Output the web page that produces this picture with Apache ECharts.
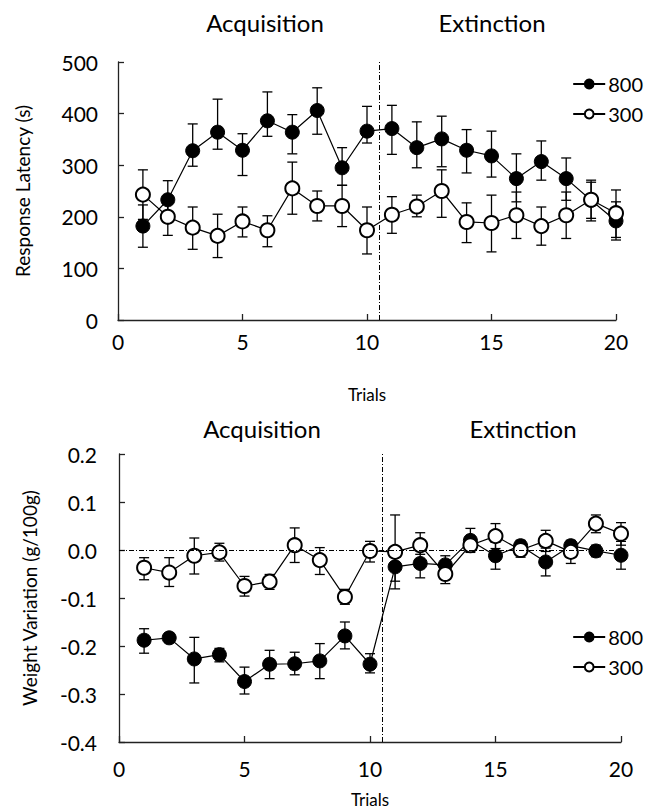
<!DOCTYPE html>
<html><head><meta charset="utf-8">
<script src="https://cdn.jsdelivr.net/npm/echarts@6/dist/echarts.min.js"></script>
<style>html,body{margin:0;padding:0;background:#fff}#c{width:664px;height:812px}</style>
</head><body><div id="c"></div>
<script>
// ---------- data ----------
const trials = [1,2,3,4,5,6,7,8,9,10,11,12,13,14,15,16,17,18,19,20];
const phaseBoundary = 10.5;
const phaseLabels = ['Acquisition', 'Extinction'];

// Top: Response latency (s)
const lat800 =   [182,233,328,364,329,386,364,406,295,366,371,334,351,329,318,274,307,274,232,192];
const lat800Lo = [141,196,298,331,280,356,322,360,261,343,321,295,297,285,277,229,271,232,192,155];
const lat800Hi = [223,270,380,428,361,442,398,450,334,414,416,384,395,369,366,322,347,314,271,229];
const lat300 =   [243,200,179,163,191,174,255,221,221,174,204,220,250,190,188,203,182,203,233,207];
const lat300Lo = [195,164,137,121,161,142,205,192,181,128,168,200,199,150,132,158,145,158,197,160];
const lat300Hi = [291,236,219,205,219,202,306,250,261,219,239,242,291,227,242,248,219,248,267,252];

// Bottom: Weight variation (g/100g)
const wv800 =   [-0.188,-0.183,-0.227,-0.218,-0.274,-0.238,-0.237,-0.231,-0.179,-0.238,-0.035,-0.028,-0.031,0.020,-0.012,0.009,-0.025,0.009,-0.002,-0.011];
const wv800Lo = [-0.215,-0.193,-0.277,-0.233,-0.300,-0.268,-0.260,-0.268,-0.206,-0.256,-0.065,-0.058,-0.045,0.002,-0.040,-0.002,-0.054,-0.002,-0.014,-0.040];
const wv800Hi = [-0.164,-0.173,-0.182,-0.205,-0.244,-0.209,-0.213,-0.195,-0.150,-0.216,-0.005,0.002,-0.012,0.045,0.016,0.020,0.004,0.020,0.010,0.018];
const wv300 =   [-0.037,-0.047,-0.012,-0.005,-0.075,-0.066,0.010,-0.021,-0.098,-0.002,-0.004,0.010,-0.050,0.010,0.029,0.000,0.019,-0.004,0.055,0.034];
const wv300Lo = [-0.062,-0.076,-0.050,-0.023,-0.096,-0.082,-0.026,-0.051,-0.113,-0.025,-0.081,-0.009,-0.070,-0.005,0.003,-0.015,-0.003,-0.028,0.036,0.010];
const wv300Hi = [-0.016,-0.016,0.025,0.014,-0.055,-0.051,0.046,0.005,-0.082,0.018,0.073,0.036,-0.025,0.025,0.055,0.015,0.041,0.015,0.073,0.057];

const groups = ['800', '300'];
const xTicks = {min:0, max:20, interval:5};
const latTicks = {min:0, max:500, interval:100};
const wvTicks = {min:-0.4, max:0.2, interval:0.1};

// ---------- chart ----------
const FONT = 'Lato';
const INK = '#000';
const chart = echarts.init(document.getElementById('c'), null, {renderer:'svg'});

function errSeries(id, gi, lo, hi) {
  return {
    type:'custom', name:id, xAxisIndex:gi, yAxisIndex:gi, silent:true, z:2,
    data: trials.map((t,i)=>[t, lo[i], hi[i]]),
    encode:{x:0, y:[1,2]},
    renderItem(params, api){
      const x = api.value(0);
      const a = api.coord([x, api.value(1)]);
      const b = api.coord([x, api.value(2)]);
      const w = 5, st = {stroke:'#000', lineWidth:1.3};
      return {type:'group', children:[
        {type:'line', shape:{x1:a[0],y1:a[1],x2:b[0],y2:b[1]}, style:st},
        {type:'line', shape:{x1:a[0]-w,y1:a[1],x2:a[0]+w,y2:a[1]}, style:st},
        {type:'line', shape:{x1:b[0]-w,y1:b[1],x2:b[0]+w,y2:b[1]}, style:st}
      ]};
    }
  };
}
const dashDot = [5,2,1,2];
function lineSeries(name, gi, vals, filled, markLine) {
  const s = {
    type:'line', name, xAxisIndex:gi, yAxisIndex:gi, z: filled ? 3 : 4,
    data: trials.map((t,i)=>[t, vals[i]]),
    symbol:'circle', symbolSize:14, showSymbol:true,
    itemStyle:{color: filled ? '#000' : '#fff', borderColor:'#000', borderWidth: filled ? 1 : 2},
    lineStyle:{color:'#000', width:1.2},
    emphasis:{disabled:true}, animation:false
  };
  if (markLine) s.markLine = {symbol:'none', silent:true, label:{show:false}, animation:false,
    lineStyle:{type:dashDot, color:'#000', width:1}, data: markLine};
  return s;
}

function xAxis(gi, gap, margin) {
  return {gridIndex:gi, type:'value', ...xTicks, name:'Trials', nameLocation:'middle', nameGap:gap,
    nameTextStyle:{fontFamily:FONT, fontSize:17, color:INK},
    axisLine:{onZero:false, lineStyle:{color:'#222', width:1.3}},
    axisTick:{inside:true, length:6, lineStyle:{color:'#222', width:1.3}},
    axisLabel:{fontFamily:FONT, fontSize:21, color:INK, margin}, splitLine:{show:false}};
}
function yAxis(gi, ticks, name, gap, margin, fmt) {
  return {gridIndex:gi, type:'value', ...ticks, name, nameLocation:'middle', nameGap:gap,
    nameTextStyle:{fontFamily:FONT, fontSize:19, color:INK},
    axisLine:{show:true, onZero:false, lineStyle:{color:'#222', width:1.3}},
    axisTick:{show:true, inside:true, length:6, lineStyle:{color:'#222', width:1.3}},
    axisLabel:{fontFamily:FONT, fontSize:21, color:INK, margin, formatter:fmt}, splitLine:{show:false}};
}
function legend(top) {
  return {data:groups, orient:'vertical', right:16, top, itemWidth:32, itemHeight:11, itemGap:10,
    textStyle:{fontFamily:FONT, fontSize:20, color:INK, padding:[0,0,0,-2]}, selectedMode:false};
}
function title(x, y, text) {
  return {type:'text', x, y, style:{text, font:'24px Lato', fill:INK, textAlign:'center', textVerticalAlign:'middle'}};
}

const option = {
  backgroundColor:'#fff',
  animation:false,
  grid:[
    {left:118, top:62, width:498, height:258},
    {left:119, top:454, width:502, height:288}
  ],
  xAxis:[xAxis(0, 66, 11), xAxis(1, 49, 16)],
  yAxis:[
    yAxis(0, latTicks, 'Response Latency (s)', 86, 20),
    yAxis(1, wvTicks, 'Weight Variation (g/100g)', 80, 22, v => (Math.abs(v) < 1e-9 ? 0 : v).toFixed(1))
  ],
  legend:[legend(69), legend(622)],
  graphic:[
    title(265, 22, phaseLabels[0]),
    title(492, 22, phaseLabels[1]),
    title(262, 428, phaseLabels[0]),
    title(523, 428, phaseLabels[1])
  ],
  series:[
    errSeries('e800a', 0, lat800Lo, lat800Hi),
    errSeries('e300a', 0, lat300Lo, lat300Hi),
    lineSeries('800', 0, lat800, true, [{xAxis:phaseBoundary}]),
    lineSeries('300', 0, lat300, false),
    errSeries('e800b', 1, wv800Lo, wv800Hi),
    errSeries('e300b', 1, wv300Lo, wv300Hi),
    lineSeries('800', 1, wv800, true, [{xAxis:phaseBoundary}, {yAxis:0}]),
    lineSeries('300', 1, wv300, false)
  ]
};
chart.setOption(option);
</script></body></html>
